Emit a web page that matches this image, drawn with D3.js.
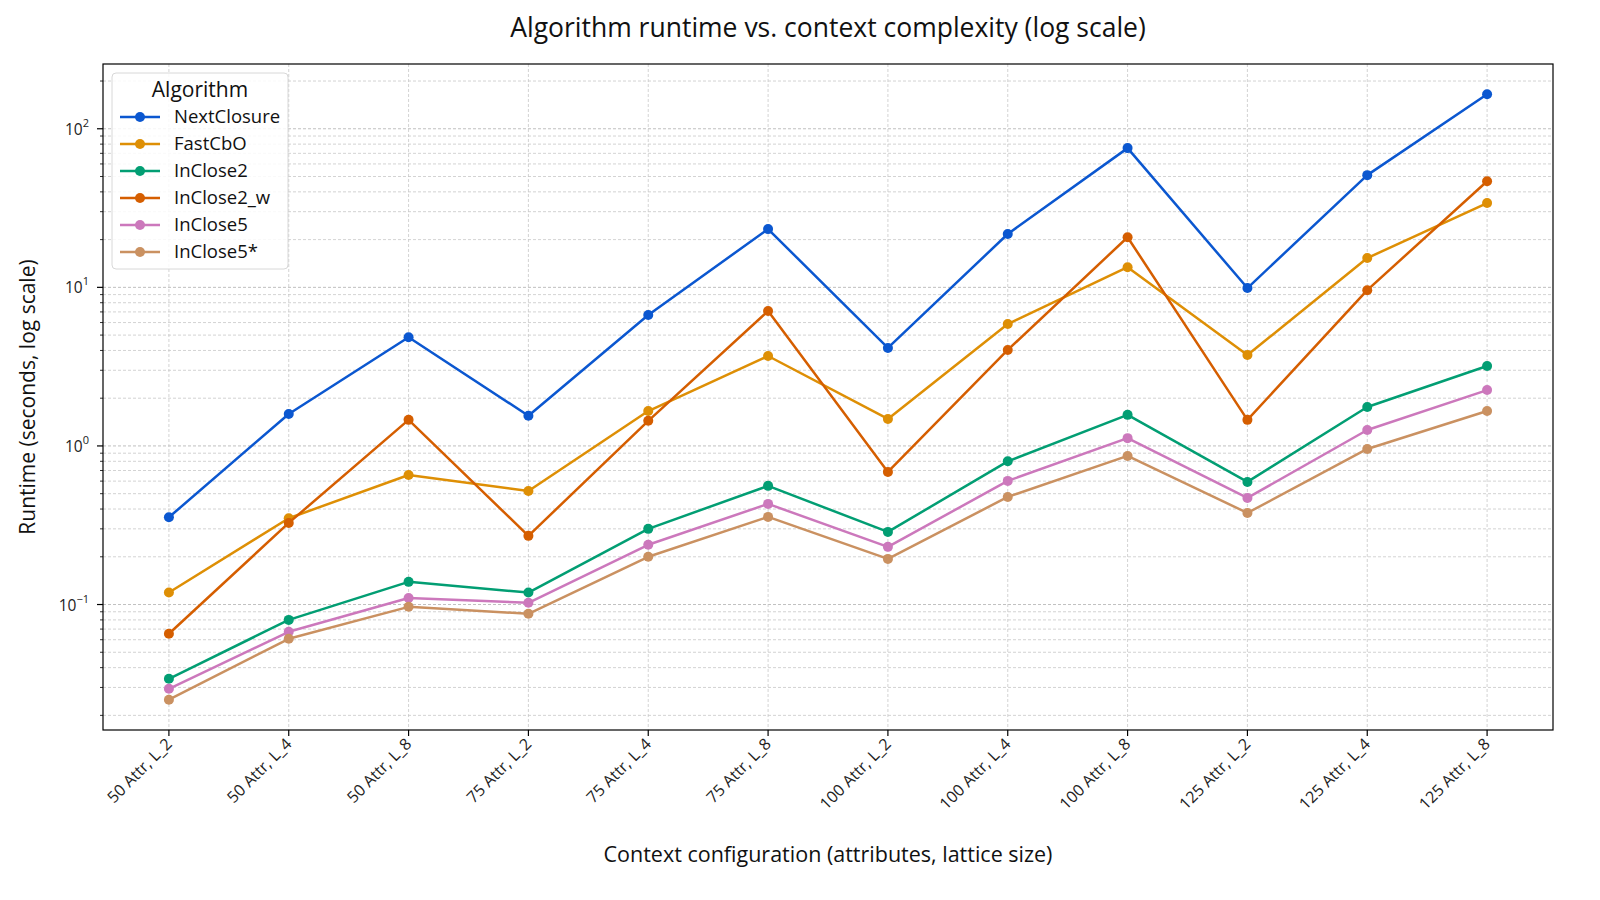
<!DOCTYPE html>
<html>
<head>
<meta charset="utf-8">
<script src="https://cdn.jsdelivr.net/npm/d3@7"></script>
<style>
  html, body { margin: 0; padding: 0; background: #fff; }
  svg { display: block; font-family: "Open Sans", "Noto Sans", sans-serif; }
</style>
</head>
<body>
<svg id="chart" width="1600" height="900"></svg>
<script>
const categories = ["50 Attr, L_2","50 Attr, L_4","50 Attr, L_8","75 Attr, L_2","75 Attr, L_4","75 Attr, L_8",
  "100 Attr, L_2","100 Attr, L_4","100 Attr, L_8","125 Attr, L_2","125 Attr, L_4","125 Attr, L_8"];
const seriesNames = ["NextClosure","FastCbO","InClose2","InClose2_w","InClose5","InClose5*"];
const nextClosure = [0.355, 1.59, 4.85, 1.55, 6.7, 23.3, 4.15, 21.7, 75.5, 9.9, 51, 165];
const fastCbO     = [0.119, 0.35, 0.656, 0.52, 1.66, 3.69, 1.48, 5.87, 13.4, 3.74, 15.3, 34];
const inClose2    = [0.034, 0.080, 0.139, 0.119, 0.30, 0.56, 0.287, 0.80, 1.57, 0.593, 1.76, 3.19];
const inClose2w   = [0.0654, 0.327, 1.46, 0.271, 1.44, 7.09, 0.686, 4.03, 20.7, 1.46, 9.6, 46.7];
const inClose5    = [0.0294, 0.0673, 0.110, 0.1025, 0.238, 0.431, 0.231, 0.602, 1.12, 0.470, 1.26, 2.25];
const inClose5s   = [0.0251, 0.0608, 0.0967, 0.0874, 0.20, 0.357, 0.194, 0.477, 0.865, 0.378, 0.957, 1.66];
const seriesValues = [nextClosure, fastCbO, inClose2, inClose2w, inClose5, inClose5s];
const colors = ["#0b57d0", "#de8f05", "#029e73", "#d55e00", "#cc78bc", "#ca9161"];
const yTickExps = [-1, 0, 1, 2];

const svg = d3.select("#chart");
const L = 103, R = 1553, T = 64, B = 730;

// x scale with matplotlib-like 5% margins
const n = categories.length;
const xm = (n - 1) * 0.05;
const x = d3.scaleLinear().domain([-xm, n - 1 + xm]).range([L, R]);

// y log scale with 5% margins in log space
const all = seriesValues.flat();
const lmin = Math.log10(d3.min(all)), lmax = Math.log10(d3.max(all));
const pad = (lmax - lmin) * 0.05;
const y = d3.scaleLog().domain([Math.pow(10, lmin - pad), Math.pow(10, lmax + pad)]).range([B, T]);

// grid lines
const minorVals = [];
for (let e = -3; e <= 3; e++) for (let m = 1; m <= 9; m++) {
  const v = m * Math.pow(10, e);
  if (v >= y.domain()[0] && v <= y.domain()[1]) minorVals.push({v, major: m === 1});
}
const grid = svg.append("g");
grid.selectAll("line.hg").data(minorVals).join("line")
  .attr("x1", L).attr("x2", R)
  .attr("y1", d => y(d.v)).attr("y2", d => y(d.v))
  .attr("stroke", d => d.major ? "#b0b0b0" : "#c8c8c8")
  .attr("stroke-width", 0.8)
  .attr("stroke-dasharray", "3,2");
grid.selectAll("line.vg").data(categories).join("line")
  .attr("x1", (d, i) => x(i)).attr("x2", (d, i) => x(i))
  .attr("y1", T).attr("y2", B)
  .attr("stroke", "#c8c8c8").attr("stroke-width", 0.8).attr("stroke-dasharray", "3,2");

// axes ticks
const yAxisG = svg.append("g");
yAxisG.selectAll("line.mt").data(minorVals).join("line")
  .attr("x1", L).attr("x2", d => L - (d.major ? 6 : 3))
  .attr("y1", d => y(d.v)).attr("y2", d => y(d.v))
  .attr("stroke", "#000").attr("stroke-width", d => d.major ? 1.2 : 0.8);
const yl = yAxisG.selectAll("text.yl").data(yTickExps).join("text")
  .attr("x", L - 14).attr("y", d => y(Math.pow(10, d)) + 6)
  .attr("text-anchor", "end").attr("font-size", 15.5).attr("fill", "#222");
yl.append("tspan").text("10");
yl.append("tspan").attr("dy", -8).attr("font-size", 11).text(d => d < 0 ? "\u2212" + Math.abs(d) : d);

const xAxisG = svg.append("g");
xAxisG.selectAll("line").data(categories).join("line")
  .attr("x1", (d, i) => x(i)).attr("x2", (d, i) => x(i))
  .attr("y1", B).attr("y2", B + 6).attr("stroke", "#000").attr("stroke-width", 1.2);
xAxisG.selectAll("text").data(categories).join("text")
  .attr("transform", (d, i) => `translate(${x(i) + 4},${B + 15}) rotate(-45)`)
  .attr("text-anchor", "end").attr("font-size", 16).attr("fill", "#222")
  .text(d => d);

// frame
svg.append("rect").attr("x", L).attr("y", T).attr("width", R - L).attr("height", B - T)
  .attr("fill", "none").attr("stroke", "#000").attr("stroke-width", 1.2);

// lines
const line = d3.line().x((d, i) => x(i)).y(d => y(d));
seriesValues.forEach((vals, si) => {
  const g = svg.append("g");
  g.append("path").attr("d", line(vals)).attr("fill", "none")
    .attr("stroke", colors[si]).attr("stroke-width", 2.5).attr("stroke-linejoin", "round");
  g.selectAll("circle").data(vals).join("circle")
    .attr("cx", (d, i) => x(i)).attr("cy", d => y(d)).attr("r", 5)
    .attr("fill", colors[si]);
});

// title and labels
svg.append("text").attr("x", (L + R) / 2).attr("y", 37).attr("text-anchor", "middle")
  .attr("font-size", 26.5).attr("fill", "#111").text("Algorithm runtime vs. context complexity (log scale)");
svg.append("text").attr("x", (L + R) / 2).attr("y", 862).attr("text-anchor", "middle")
  .attr("font-size", 21.5).attr("fill", "#111").text("Context configuration (attributes, lattice size)");
svg.append("text").attr("transform", `translate(35,${(T + B) / 2}) rotate(-90)`).attr("text-anchor", "middle")
  .attr("font-size", 21).attr("fill", "#111").text("Runtime (seconds, log scale)");

// legend
const lg = svg.append("g").attr("transform", "translate(112,73)");
lg.append("rect").attr("width", 176).attr("height", 196).attr("rx", 4)
  .attr("fill", "rgba(255,255,255,0.85)").attr("stroke", "#d8d8d8");
lg.append("text").attr("x", 88).attr("y", 24).attr("text-anchor", "middle")
  .attr("font-size", 21).attr("fill", "#111").text("Algorithm");
seriesNames.forEach((name, i) => {
  const yy = 44 + i * 27;
  lg.append("line").attr("x1", 8).attr("x2", 48).attr("y1", yy).attr("y2", yy)
    .attr("stroke", colors[i]).attr("stroke-width", 2.5);
  lg.append("circle").attr("cx", 28).attr("cy", yy).attr("r", 5).attr("fill", colors[i]);
  lg.append("text").attr("x", 62).attr("y", yy + 6).attr("font-size", 18.5).attr("fill", "#111").text(name);
});
</script>
</body>
</html>
